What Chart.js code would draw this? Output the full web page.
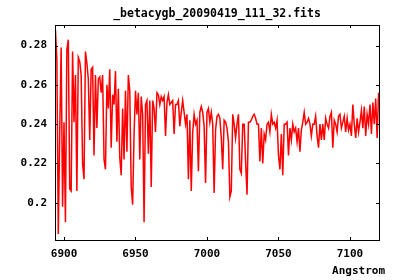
<!DOCTYPE html>
<html>
<head>
<meta charset="utf-8">
<script src="https://cdn.jsdelivr.net/npm/chart.js@4.4.1/dist/chart.umd.min.js"></script>
<style>
  html, body { margin: 0; padding: 0; background: #fff; }
  canvas { display: block; }
</style>
</head>
<body>
<canvas id="spectrum" width="400" height="280"></canvas>
<script>
// Spectrum data: one flux sample per Angstrom from 6894 to 7120
const titleText = '_betacygb_20090419_111_32.fits';
const xAxisTitle = 'Angstrom';
const startAngstrom = 6894;
const stepAngstrom = 1;

const flux = [
    0.288, 0.273, 0.184, 0.236, 0.279, 0.198, 0.241, 0.190, 0.278, 0.283,
    0.207, 0.206, 0.277, 0.241, 0.265, 0.206, 0.274, 0.272, 0.265, 0.220,
    0.212, 0.277, 0.271, 0.263, 0.232, 0.268, 0.269, 0.224, 0.265, 0.238,
    0.263, 0.264, 0.256, 0.265, 0.222, 0.217, 0.260, 0.248, 0.268, 0.228,
    0.255, 0.250, 0.267, 0.231, 0.258, 0.223, 0.214, 0.248, 0.222, 0.257,
    0.226, 0.265, 0.257, 0.208, 0.199, 0.235, 0.257, 0.245, 0.256, 0.222,
    0.254, 0.245, 0.190, 0.250, 0.252, 0.225, 0.252, 0.208, 0.252, 0.248,
    0.236, 0.256, 0.255, 0.250, 0.254, 0.252, 0.254, 0.234, 0.251, 0.255,
    0.250, 0.251, 0.252, 0.235, 0.250, 0.250, 0.252, 0.239, 0.246, 0.252,
    0.246, 0.240, 0.245, 0.212, 0.242, 0.206, 0.236, 0.245, 0.240, 0.242,
    0.216, 0.246, 0.249, 0.246, 0.239, 0.210, 0.246, 0.248, 0.241, 0.246,
    0.240, 0.205, 0.237, 0.244, 0.245, 0.243, 0.233, 0.217, 0.242, 0.241,
    0.238, 0.231, 0.203, 0.206, 0.245, 0.240, 0.233, 0.240, 0.245, 0.217,
    0.215, 0.240, 0.240, 0.221, 0.204, 0.241, 0.241, 0.242, 0.244, 0.245,
    0.243, 0.240, 0.240, 0.221, 0.238, 0.220, 0.235, 0.232, 0.240, 0.241,
    0.236, 0.245, 0.240, 0.241, 0.238, 0.242, 0.224, 0.217, 0.235, 0.214,
    0.240, 0.240, 0.241, 0.224, 0.238, 0.232, 0.240, 0.236, 0.238, 0.231,
    0.238, 0.226, 0.237, 0.241, 0.246, 0.240, 0.241, 0.243, 0.240, 0.234,
    0.240, 0.240, 0.244, 0.234, 0.228, 0.240, 0.232, 0.240, 0.232, 0.243,
    0.240, 0.238, 0.244, 0.246, 0.228, 0.242, 0.240, 0.236, 0.244, 0.245,
    0.238, 0.241, 0.244, 0.236, 0.243, 0.237, 0.240, 0.234, 0.250, 0.240,
    0.233, 0.243, 0.236, 0.241, 0.247, 0.238, 0.249, 0.234, 0.245, 0.240,
    0.250, 0.235, 0.251, 0.240, 0.253, 0.233, 0.256
];

const xTicks = [6900, 6950, 7000, 7050, 7100];
const xTickLabels = ['6900', '6950', '7000', '7050', '7100'];
const yTicks = [0.2, 0.22, 0.24, 0.26, 0.28];
const yTickLabels = ['0.2', '0.22', '0.24', '0.26', '0.28'];

const points = flux.map((f, i) => ({ x: startAngstrom + i * stepAngstrom, y: f }));

const monoFont = { family: "'DejaVu Sans Mono', monospace", size: 11, weight: 'bold' };

// gnuplot style frame: black box, short inward ticks on all four sides,
// title centred over the plot and axis title at bottom right
const framePlugin = {
    id: 'frame',
    afterDraw(chart) {
        const { ctx, chartArea: a, scales } = chart;
        const tick = 3;
        ctx.save();
        ctx.strokeStyle = '#000';
        ctx.lineWidth = 1;
        ctx.beginPath();
        xTicks.forEach(v => {
            const px = Math.round(scales.x.getPixelForValue(v)) + 0.5;
            ctx.moveTo(px, a.bottom);
            ctx.lineTo(px, a.bottom - tick);
            ctx.moveTo(px, a.top);
            ctx.lineTo(px, a.top + tick);
        });
        yTicks.forEach(v => {
            const py = Math.round(scales.y.getPixelForValue(v)) + 0.5;
            ctx.moveTo(a.left, py);
            ctx.lineTo(a.left + tick, py);
            ctx.moveTo(a.right, py);
            ctx.lineTo(a.right - tick, py);
        });
        ctx.stroke();
        ctx.strokeRect(Math.round(a.left) + 0.5, Math.round(a.top) + 0.5,
            Math.round(a.right - a.left), Math.round(a.bottom - a.top));

        ctx.fillStyle = '#000';
        ctx.textBaseline = 'middle';
        ctx.font = "bold 11.5px 'DejaVu Sans Mono', monospace";
        ctx.textAlign = 'center';
        ctx.fillText(titleText, (a.left + a.right) / 2, 14);
        ctx.font = "bold 11px 'DejaVu Sans Mono', monospace";
        ctx.textAlign = 'right';
        ctx.fillText(xAxisTitle, a.right + 6, a.bottom + 31);
        ctx.restore();
    }
};

new Chart(document.getElementById('spectrum'), {
    type: 'line',
    data: {
        datasets: [{
            data: points,
            borderColor: '#ff0000',
            borderWidth: 1.5,
            pointRadius: 0,
            tension: 0,
            fill: false
        }]
    },
    options: {
        responsive: false,
        animation: false,
        events: [],
        layout: { padding: { left: 0, right: 21, top: 25, bottom: 0 } },
        plugins: {
            legend: { display: false },
            tooltip: { enabled: false },
            title: { display: false }
        },
        scales: {
            x: {
                type: 'linear',
                min: 6893.7,
                max: 7120.3,
                grid: { display: false, drawTicks: false },
                border: { display: false },
                afterBuildTicks: s => { s.ticks = xTicks.map(v => ({ value: v })); },
                afterFit: s => { s.height = 40; },
                ticks: {
                    color: '#000',
                    font: monoFont,
                    padding: 8,
                    maxRotation: 0,
                    autoSkip: false,
                    callback: (v, i) => xTickLabels[i]
                }
            },
            y: {
                min: 0.181,
                max: 0.2905,
                grid: { display: false, drawTicks: false },
                border: { display: false },
                afterBuildTicks: s => { s.ticks = yTicks.map(v => ({ value: v })); },
                afterFit: s => { s.width = 55; },
                ticks: {
                    color: '#000',
                    font: monoFont,
                    padding: 8,
                    autoSkip: false,
                    callback: (v, i) => yTickLabels[i]
                }
            }
        }
    },
    plugins: [framePlugin]
});
</script>
</body>
</html>
